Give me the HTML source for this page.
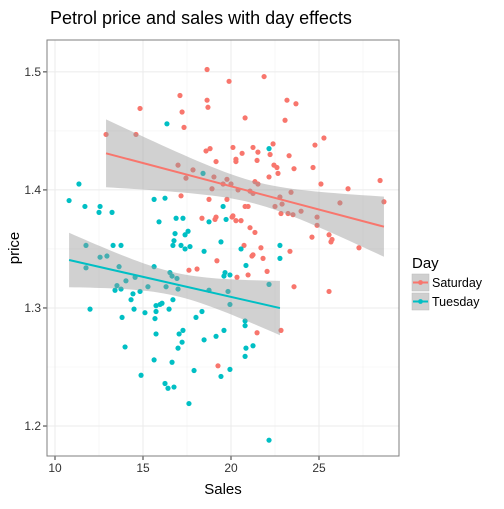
<!DOCTYPE html>
<html><head><meta charset="utf-8"><style>
body{margin:0;background:#fff;font-family:"Liberation Sans",sans-serif}
</style></head><body>
<svg id="c" width="504" height="504" xmlns="http://www.w3.org/2000/svg"></svg>
<script>
const redSales=[18.64,17.10,18.64,18.69,14.83,17.22,17.33,12.90,14.60,18.58,18.81,19.15,16.99,17.84,17.44,19.03,18.92,19.55,17.16,18.75,18.35,19.15,19.09,19.89,21.88,23.18,23.69,20.80,23.07,25.28,24.77,22.39,20.11,21.25,21.53,20.63,22.22,23.30,20.28,20.28,21.48,22.44,22.61,24.66,23.58,22.67,22.16,19.77,21.36,21.53,20.00,25.11,28.47,26.65,20.40,21.08,21.25,23.41,22.78,19.77,26.19,28.69,20.80,20.97,22.50,22.90,23.98,22.84,23.24,23.52,20.11,20.06,24.89,20.28,20.57,24.89,21.08,21.36,25.57,25.74,25.68,24.60,20.74,21.70,27.27,23.35,21.19,21.25,21.82,17.61,18.07,19.20,20.34,20.97,22.05,21.48,22.84,19.26,23.58,25.57];
const redPrice=[1.502,1.480,1.476,1.470,1.469,1.466,1.453,1.447,1.447,1.433,1.435,1.424,1.421,1.417,1.410,1.411,1.401,1.405,1.395,1.392,1.376,1.377,1.375,1.492,1.496,1.476,1.473,1.461,1.459,1.444,1.438,1.439,1.436,1.436,1.432,1.431,1.430,1.429,1.426,1.424,1.425,1.421,1.419,1.419,1.418,1.414,1.411,1.409,1.407,1.405,1.405,1.405,1.408,1.401,1.400,1.399,1.397,1.398,1.394,1.392,1.389,1.390,1.386,1.386,1.386,1.388,1.382,1.380,1.380,1.379,1.378,1.377,1.377,1.374,1.374,1.370,1.368,1.364,1.362,1.358,1.356,1.360,1.353,1.351,1.351,1.348,1.344,1.345,1.342,1.332,1.333,1.340,1.326,1.328,1.331,1.279,1.281,1.251,1.318,1.314];
const tueSales=[16.36,11.36,10.80,11.70,12.56,12.50,13.24,15.63,16.25,18.41,19.55,15.91,16.88,17.27,18.75,17.56,16.82,17.39,16.76,16.70,17.16,17.39,17.67,18.47,19.43,11.76,13.30,13.75,12.56,12.95,22.16,19.72,22.78,20.57,22.78,11.76,13.64,15.63,13.52,13.41,13.75,14.03,14.55,16.53,16.65,16.93,15.28,16.31,16.99,14.43,14.83,14.32,11.99,14.49,13.81,15.11,15.74,15.97,16.08,16.70,16.48,15.74,15.68,15.74,17.05,17.27,17.22,16.99,13.98,15.63,16.65,14.89,16.25,16.42,16.76,17.61,17.90,18.01,18.35,18.47,18.75,19.15,19.60,19.43,19.94,19.83,19.94,19.60,19.66,19.94,20.85,20.80,20.80,20.85,20.80,21.25,22.16,22.16];
const tuePrice=[1.456,1.405,1.391,1.386,1.386,1.381,1.381,1.392,1.393,1.414,1.386,1.373,1.376,1.376,1.373,1.365,1.363,1.362,1.357,1.353,1.353,1.350,1.352,1.348,1.356,1.353,1.353,1.353,1.343,1.344,1.435,1.375,1.353,1.350,1.342,1.334,1.335,1.335,1.319,1.315,1.316,1.323,1.326,1.330,1.327,1.325,1.318,1.318,1.316,1.312,1.314,1.307,1.299,1.299,1.292,1.296,1.302,1.303,1.304,1.307,1.299,1.297,1.291,1.278,1.278,1.281,1.271,1.266,1.267,1.256,1.254,1.243,1.236,1.232,1.233,1.219,1.247,1.292,1.297,1.273,1.315,1.276,1.281,1.242,1.248,1.314,1.303,1.327,1.330,1.328,1.336,1.289,1.285,1.266,1.259,1.268,1.320,1.188];
const xTicks=[10,15,20,25];
const yTicks=[1.2,1.3,1.4,1.5];
const xMinor=[12.5,17.5,22.5,27.5];
const yMinor=[1.25,1.35,1.45];

const L=47,R=399,T=40,B=456;
const xMin=9.545,xMax=29.545,yMin=1.1746,yMax=1.527;
const X=v=>L+(v-xMin)/(xMax-xMin)*(R-L);
const Y=v=>B-(v-yMin)/(yMax-yMin)*(B-T);
const svg=document.getElementById('c');
const NS='http://www.w3.org/2000/svg';
function mk(tag,attrs,parent){const e=document.createElementNS(NS,tag);for(const k in attrs)e.setAttribute(k,attrs[k]);(parent||svg).appendChild(e);return e;}
function txt(s,attrs){const e=mk('text',attrs);e.textContent=s;return e;}

let t=txt('Petrol price and sales with day effects',{x:50,y:24,'font-size':18,fill:'#000'});


let bg=mk('rect',{x:L,y:T,width:R-L,height:B-T,fill:'#fff'});


xMinor.forEach(v=>{const g=mk('line',{x1:X(v),x2:X(v),y1:T,y2:B,stroke:'#f2f2f2','stroke-width':0.6});

});
yMinor.forEach(v=>{const g=mk('line',{x1:L,x2:R,y1:Y(v),y2:Y(v),stroke:'#f2f2f2','stroke-width':0.6});

});
xTicks.forEach(v=>{const g=mk('line',{x1:X(v),x2:X(v),y1:T,y2:B,stroke:'#ebebeb','stroke-width':1});


const tk=mk('line',{x1:X(v),x2:X(v),y1:B,y2:B+4,stroke:'#333','stroke-width':1});


const lb=txt(String(v),{x:X(v),y:B+16,'font-size':12,'text-anchor':'middle',fill:'#333'});

});
yTicks.forEach(v=>{const g=mk('line',{x1:L,x2:R,y1:Y(v),y2:Y(v),stroke:'#ebebeb','stroke-width':1});


const tk=mk('line',{x1:L-4,x2:L,y1:Y(v),y2:Y(v),stroke:'#333','stroke-width':1});


const lb=txt(v.toFixed(1),{x:L-6,y:Y(v)+4,'font-size':12,'text-anchor':'end',fill:'#333'});

});

function pts(xs,ys,col,name){xs.forEach((x,i)=>{const c=mk('circle',{cx:X(x),cy:Y(ys[i]),r:2.6,fill:col});

});}
pts(redSales,redPrice,'#F8766D','saturday-point');
pts(tueSales,tuePrice,'#00BFC4','tuesday-point');

function fit(xs,ys,col,name){
 const n=xs.length,mx=xs.reduce((a,b)=>a+b)/n,my=ys.reduce((a,b)=>a+b)/n;
 let sxx=0,sxy=0;xs.forEach((x,i)=>{sxx+=(x-mx)**2;sxy+=(x-mx)*(ys[i]-my);});
 const b=sxy/sxx,a=my-b*mx;let sse=0;xs.forEach((x,i)=>{sse+=(ys[i]-a-b*x)**2;});
 const s=Math.sqrt(sse/(n-2)),tq=1.985;
 const x0=Math.min(...xs),x1=Math.max(...xs),up=[],lo=[];
 for(let k=0;k<=40;k++){const x=x0+(x1-x0)*k/40,yh=a+b*x,se=s*Math.sqrt(1/n+(x-mx)**2/sxx);
  up.push(X(x)+','+Y(yh+tq*se));lo.unshift(X(x)+','+Y(yh-tq*se));}
 const rb=mk('polygon',{points:up.concat(lo).join(' '),fill:'#999','fill-opacity':0.45});
 
 
 const ln=mk('line',{x1:X(x0),y1:Y(a+b*x0),x2:X(x1),y2:Y(a+b*x1),stroke:col,'stroke-width':2});
 
 
}
fit(redSales,redPrice,'#F8766D','saturday');
fit(tueSales,tuePrice,'#00BFC4','tuesday');

let bd=mk('rect',{x:L,y:T,width:R-L,height:B-T,fill:'none',stroke:'#7f7f7f','stroke-width':1});


let xt=txt('Sales',{x:(L+R)/2,y:494,'font-size':15,'text-anchor':'middle',fill:'#000'});


let yt=txt('price',{x:0,y:0,'font-size':15,'text-anchor':'middle',fill:'#000',transform:'translate(19,248) rotate(-90)'});



let lt=txt('Day',{x:412,y:268,'font-size':15,fill:'#000'});


[['Saturday','#F8766D',274],['Tuesday','#00BFC4',293]].forEach(([n,c,y])=>{
 const g=mk('g',{});
 
 
 mk('rect',{x:412,y:y,width:17,height:17,fill:'#cfcfcf',stroke:'#bbb','stroke-width':0.5},g);
 mk('line',{x1:413,x2:428,y1:y+8.5,y2:y+8.5,stroke:c,'stroke-width':2},g);
 mk('circle',{cx:420.5,cy:y+8.5,r:2.4,fill:c},g);
 const tx=mk('text',{x:432,y:y+13,'font-size':12.5,fill:'#000'},g);tx.textContent=n;
});
</script>
</body></html>
